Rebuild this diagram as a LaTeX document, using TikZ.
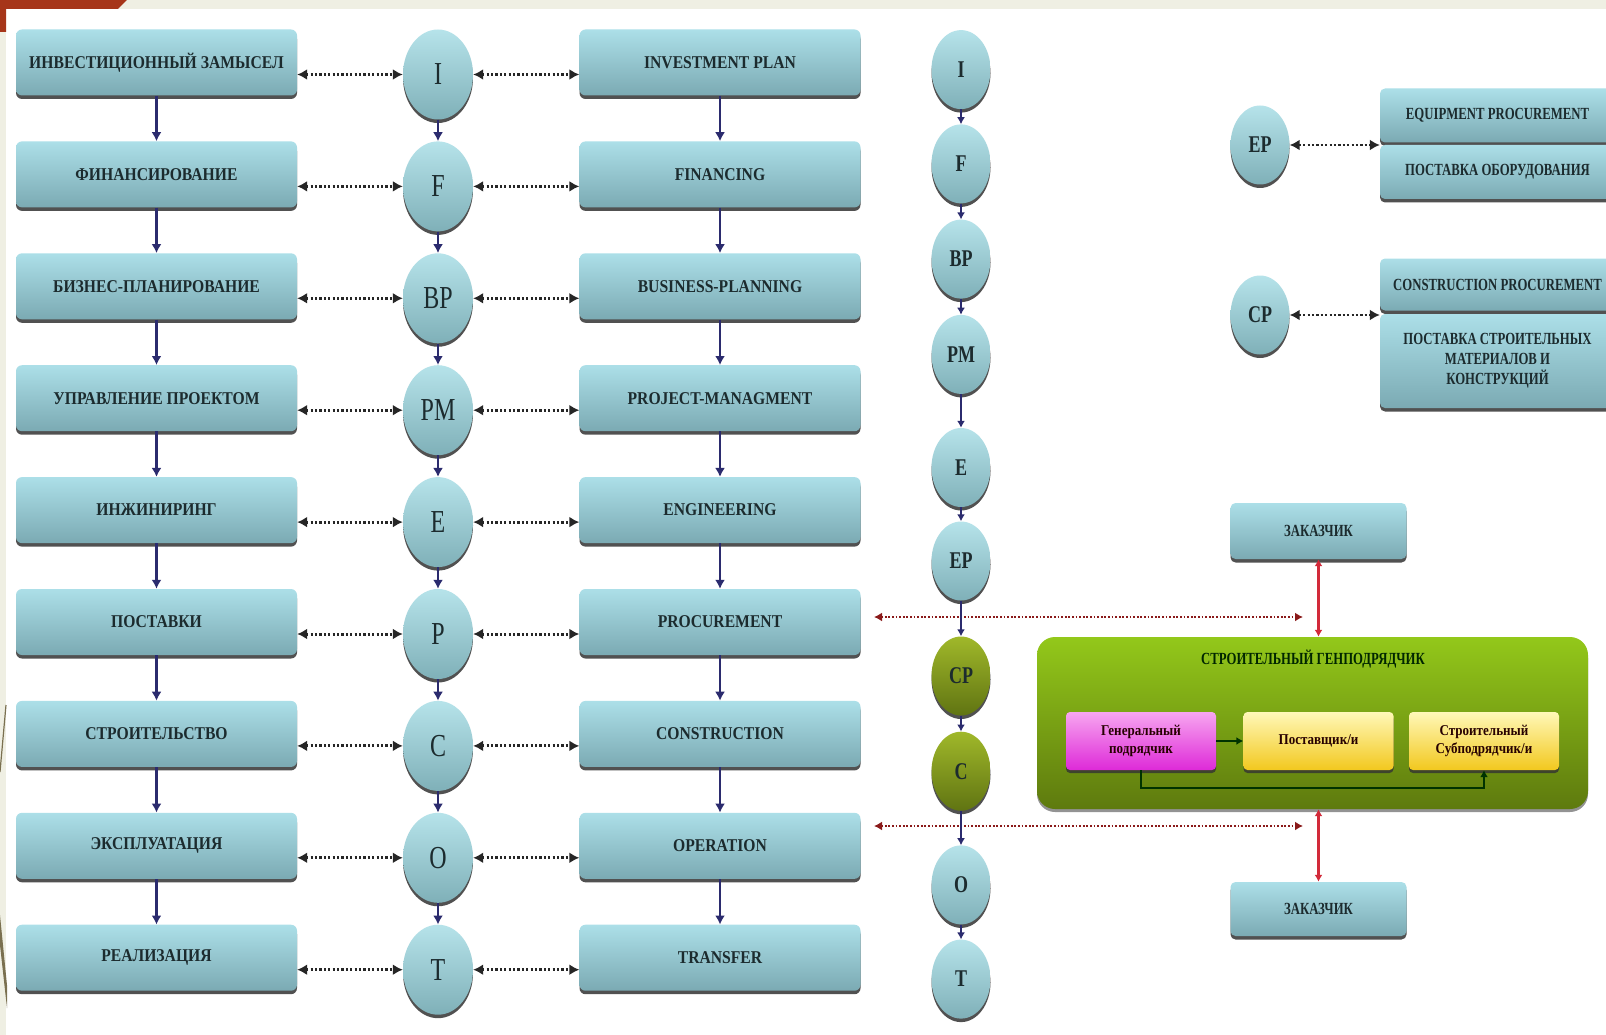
\documentclass[tikz,border=0pt]{standalone}
\usepackage{fontspec}
\setmainfont{Liberation Serif}
\newfontfamily\bxf[FakeStretch=0.87]{Liberation Serif}
\newfontfamily\nrf[FakeStretch=0.75]{Liberation Serif}
\usetikzlibrary{shapes.geometric,arrows.meta,shadows,calc}

\definecolor{boxtop}{HTML}{ACDFE8}
\definecolor{boxbot}{HTML}{7BAAB3}
\definecolor{ovaltop}{HTML}{B6E3EA}
\definecolor{ovalbot}{HTML}{7FB0B8}
\definecolor{inktext}{HTML}{1C2B2E}
\definecolor{navy}{HTML}{2B2B6E}
\definecolor{grtop}{HTML}{93C81A}
\definecolor{grbot}{HTML}{5E7A0E}
\definecolor{olvtop}{HTML}{A0B82A}
\definecolor{olvbot}{HTML}{607412}
\definecolor{pktop}{HTML}{F7A6F0}
\definecolor{pkbot}{HTML}{DE2AD8}
\definecolor{yltop}{HTML}{FFF8B8}
\definecolor{ylbot}{HTML}{F2C81E}
\definecolor{redline}{HTML}{D22A3A}
\definecolor{reddot}{HTML}{8A1A1A}
\definecolor{beige}{HTML}{EFEFE3}
\definecolor{rust}{HTML}{A63519}
\definecolor{olivedeco}{HTML}{7A7050}

\tikzset{
  shade box/.style={drop shadow={shadow xshift=0pt,shadow yshift=-3.5pt,fill=black!80,opacity=0.85}},
  mainbox/.style={shade box, rectangle, rounded corners=6pt, top color=boxtop, bottom color=boxbot,
    minimum width=281pt, minimum height=66pt, inner sep=2pt, text=inktext,
    font=\bxf\bfseries\fontsize{18}{20}\selectfont},
  bigoval/.style={shade box, ellipse, top color=ovaltop, bottom color=ovalbot,
    minimum width=70pt, minimum height=90pt, inner sep=0pt, text=inktext,
    font=\nrf\fontsize{32}{34}\selectfont},
  smalloval/.style={shade box, ellipse, top color=ovaltop, bottom color=ovalbot,
    minimum width=59pt, minimum height=79pt, inner sep=0pt, text=inktext,
    font=\nrf\bfseries\fontsize{24}{26}\selectfont},
  greenoval/.style={smalloval, top color=olvtop, bottom color=olvbot},
  sidebox/.style={shade box, rectangle, rounded corners=5pt, top color=boxtop, bottom color=boxbot,
    inner sep=2pt, text=inktext, align=center,
    font=\nrf\bfseries\fontsize{17}{20}\selectfont},
  container/.style={drop shadow={shadow xshift=0pt,shadow yshift=-3pt,fill=black!70,opacity=0.6},
    rectangle, rounded corners=18pt, top color=grtop, bottom color=grbot,
    minimum width=551pt, minimum height=172pt},
  smallbox/.style={drop shadow={shadow xshift=0pt,shadow yshift=-3pt,fill=black!80,opacity=0.8},
    rectangle, rounded corners=4pt, minimum width=150pt, minimum height=58pt, inner sep=2pt,
    align=center, text=black!85!red, font=\bxf\bfseries\fontsize{15}{18}\selectfont},
  pinkbox/.style={smallbox, top color=pktop, bottom color=pkbot},
  yellowbox/.style={smallbox, top color=yltop, bottom color=ylbot},
  navyarrow/.style={draw=navy, line width=2.6pt, -{Latex[length=9pt,width=10pt]}},
  navythin/.style={draw=navy, line width=2pt, -{Latex[length=7pt,width=8pt]}},
  dotarrow/.style={draw=black!85, line width=3pt, dash pattern=on 2.2pt off 2.2pt,
    {Latex[length=10pt,width=11pt]}-{Latex[length=10pt,width=11pt]}},
  redsolid/.style={draw=redline, line width=2.2pt,
    {Latex[length=7pt,width=8pt]}-{Latex[length=7pt,width=8pt]}},
  reddotted/.style={draw=reddot, line width=2.4pt, dash pattern=on 1.8pt off 1.8pt,
    {Latex[length=8pt,width=9pt]}-{Latex[length=8pt,width=9pt]}},
  innerarrow/.style={draw=black!80!green, line width=2.2pt, -{Latex[length=7pt,width=8pt]}}
}

\begin{document}
\begin{tikzpicture}[x=1pt,y=-1pt]
\useasboundingbox (0,0) rectangle (1606,1035);
\clip (0,0) rectangle (1606,1035);

% slide background and frame decoration
\fill[white] (0,0) rectangle (1606,1035);
\fill[beige] (0,0) rectangle (1606,9);
\fill[beige] (0,0) rectangle (6,1035);
\fill[rust] (0,0) -- (127,0) -- (118,9) -- (6,9) -- (6,32) -- (0,32) -- cycle;
\draw[olivedeco, line width=1.2pt] (6,705) -- (0,772);
\fill[olivedeco] (0,915) -- (7,985) -- (7,1008) -- (0,945) -- cycle;

% phase chain: Russian term, phase letter, English term
\foreach \k/\ru/\en/\ab in {
  0/ИНВЕСТИЦИОННЫЙ ЗАМЫСЕЛ/INVESTMENT PLAN/I,
  1/ФИНАНСИРОВАНИЕ/FINANCING/F,
  2/БИЗНЕС-ПЛАНИРОВАНИЕ/BUSINESS-PLANNING/BP,
  3/УПРАВЛЕНИЕ ПРОЕКТОМ/PROJECT-MANAGMENT/PM,
  4/ИНЖИНИРИНГ/ENGINEERING/E,
  5/ПОСТАВКИ/PROCUREMENT/P,
  6/СТРОИТЕЛЬСТВО/CONSTRUCTION/C,
  7/ЭКСПЛУАТАЦИЯ/OPERATION/O,
  8/РЕАЛИЗАЦИЯ/TRANSFER/T}{
  \pgfmathsetmacro\yb{62.5+111.9*\k}
  \pgfmathsetmacro\ye{\yb+12}
  \node[mainbox] (ru\k) at (156.5,\yb) {\ru};
  \node[bigoval] (c\k) at (438,\ye) {\raisebox{-4pt}{\ab}};
  \node[mainbox] (en\k) at (720,\yb) {\en};
  \draw[dotarrow] (ru\k.east |- c\k) -- (c\k.west);
  \draw[dotarrow] (c\k.east) -- (en\k.west |- c\k);
}
\foreach \k [evaluate=\k as \n using int(\k+1)] in {0,...,7}{
  \draw[navyarrow] (ru\k.south) -- (ru\n.north);
  \draw[navyarrow] (c\k.south) -- (c\n.north);
  \draw[navyarrow] (en\k.south) -- (en\n.north);
}

% extended phase chain
\node[smalloval] (dI)  at (961,69.6)  {I};
\node[smalloval] (dF)  at (961,163.9) {F};
\node[smalloval] (dBP) at (961,259.1) {BP};
\node[smalloval] (dPM) at (961,354.4) {PM};
\node[smalloval] (dE)  at (961,467.5) {E};
\node[smalloval] (dEP) at (961,561)   {EP};
\node[greenoval] (dCP) at (961,676)   {CP};
\node[greenoval] (dC)  at (961,771.2) {C};
\node[smalloval] (dO)  at (961,884.9) {O};
\node[smalloval] (dT)  at (961,979.1) {T};

% procurement split
\node[smalloval] (ep) at (1260,145) {EP};
\node[smalloval] (cp) at (1260,315) {CP};
\node[sidebox, minimum width=235pt, minimum height=54pt] (epA) at (1497.5,115.5) {EQUIPMENT PROCUREMENT};
\node[sidebox, minimum width=235pt, minimum height=54pt] (epB) at (1497.5,172) {ПОСТАВКА ОБОРУДОВАНИЯ};
\node[sidebox, minimum width=235pt, minimum height=52pt] (cpA) at (1497.5,284.5) {CONSTRUCTION PROCUREMENT};
\node[sidebox, minimum width=235pt, minimum height=94pt] (cpB) at (1497.5,361) {ПОСТАВКА СТРОИТЕЛЬНЫХ\\МАТЕРИАЛОВ И\\КОНСТРУКЦИЙ};
\draw[dotarrow, line width=2.4pt] (ep.east) -- (epA.west |- ep);
\draw[dotarrow, line width=2.4pt] (cp.east) -- (cpA.west |- cp);

% client and general contractor
\node[sidebox, minimum width=176pt, minimum height=56pt] (zak1) at (1318.5,531) {ЗАКАЗЧИК};
\node[sidebox, minimum width=176pt, minimum height=54pt] (zak2) at (1318.5,909) {ЗАКАЗЧИК};
\node[container] (gc) at (1312.5,723) {};
\node[text=black!85!green, font=\nrf\bfseries\fontsize{17}{20}\selectfont] (gtitle) at (1313,659) {СТРОИТЕЛЬНЫЙ ГЕНПОДРЯДЧИК};
\node[pinkbox] (gen) at (1141,741) {Генеральный\\подрядчик};
\node[yellowbox] (sup) at (1318.5,741) {Поставщик/и};
\node[yellowbox] (sub) at (1484,741) {Строительный\\Субподрядчик/и};
\draw[innerarrow] (gen.east) -- (sup.west);
\draw[innerarrow] (gen.south) -- ++(0,18) -| (sub.south);

\draw[redsolid] (zak1.south) -- (zak1.south |- gc.north);
\draw[redsolid] (zak2.north |- gc.south) -- (zak2.north);

\coordinate (rpl) at (874,617);
\coordinate (rpr) at (1303,617);
\coordinate (rol) at (874,826);
\coordinate (ror) at (1303,826);
\draw[reddotted] (rpl) -- (rpr);
\draw[reddotted] (rol) -- (ror);

\foreach \a/\b in {dI/dF, dF/dBP, dBP/dPM, dPM/dE, dE/dEP, dEP/dCP, dCP/dC, dC/dO, dO/dT}{
  \draw[navythin] (\a.south) -- (\b.north);
}
\end{tikzpicture}
\end{document}
